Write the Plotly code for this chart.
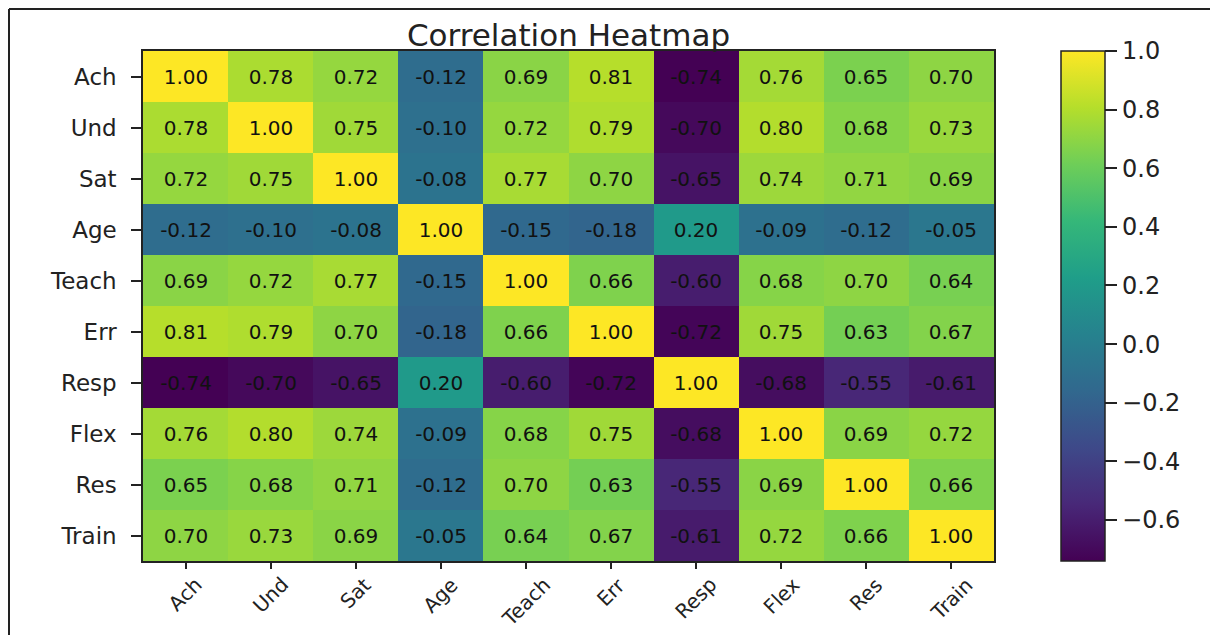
import plotly.graph_objects as go

labels = ["Ach", "Und", "Sat", "Age", "Teach", "Err", "Resp", "Flex", "Res", "Train"]

row_ach = [1.00, 0.78, 0.72, -0.12, 0.69, 0.81, -0.74, 0.76, 0.65, 0.70]
row_und = [0.78, 1.00, 0.75, -0.10, 0.72, 0.79, -0.70, 0.80, 0.68, 0.73]
row_sat = [0.72, 0.75, 1.00, -0.08, 0.77, 0.70, -0.65, 0.74, 0.71, 0.69]
row_age = [-0.12, -0.10, -0.08, 1.00, -0.15, -0.18, 0.20, -0.09, -0.12, -0.05]
row_teach = [0.69, 0.72, 0.77, -0.15, 1.00, 0.66, -0.60, 0.68, 0.70, 0.64]
row_err = [0.81, 0.79, 0.70, -0.18, 0.66, 1.00, -0.72, 0.75, 0.63, 0.67]
row_resp = [-0.74, -0.70, -0.65, 0.20, -0.60, -0.72, 1.00, -0.68, -0.55, -0.61]
row_flex = [0.76, 0.80, 0.74, -0.09, 0.68, 0.75, -0.68, 1.00, 0.69, 0.72]
row_res = [0.65, 0.68, 0.71, -0.12, 0.70, 0.63, -0.55, 0.69, 1.00, 0.66]
row_train = [0.70, 0.73, 0.69, -0.05, 0.64, 0.67, -0.61, 0.72, 0.66, 1.00]

z = [row_ach, row_und, row_sat, row_age, row_teach, row_err, row_resp, row_flex, row_res, row_train]
cell_text = [[f"{v:.2f}" for v in row] for row in z]

cbar_vals = [1.0, 0.8, 0.6, 0.4, 0.2, 0.0, -0.2, -0.4, -0.6]
cbar_text = [f"{v:.1f}".replace("-", "\u2212") for v in cbar_vals]

FONT = "DejaVu Sans"
OFF = 8  # page body margin
W, H = 1210, 627
L, T = 143 - OFF, 51 - OFF
R = W - (994 - OFF)
B = H - (561 - OFF)
pw, ph = W - L - R, H - T - B

def px_x(x):
    return (x - OFF - L) / pw

def px_y(y):
    return (H - B - (y - OFF)) / ph

fig = go.Figure(go.Heatmap(
    z=z, x=labels, y=labels,
    text=cell_text, texttemplate="%{text}",
    textfont=dict(family=FONT, size=20, color="#111"),
    colorscale="Viridis", zmin=-0.74, zmax=1.0,
    xgap=0, ygap=0,
    colorbar=dict(
        x=px_x(1061), xanchor="left", xref="paper",
        y=0.5, yanchor="middle", len=1.0, lenmode="fraction",
        thickness=44, thicknessmode="pixels",
        outlinewidth=1.5, outlinecolor="#222",
        tickvals=cbar_vals, ticktext=cbar_text,
        ticks="outside", ticklen=12, tickwidth=1.5, tickcolor="#222",
        tickfont=dict(family=FONT, size=24, color="#222"),
        xpad=0, ypad=0,
    ),
))

# rotated x labels, centred under their ticks like the reference
x_annotations = [
    dict(text=lab, x=lab, xref="x", y=0, yref="paper", yshift=-9,
         xanchor="center", yanchor="top", textangle=-45, showarrow=False,
         font=dict(family=FONT, size=20, color="#222"))
    for lab in labels
]

fig.update_layout(
    width=W, height=H,
    margin=dict(l=L, r=R, t=T, b=B, autoexpand=False),
    paper_bgcolor="white", plot_bgcolor="white",
    title=dict(text="Correlation Heatmap", x=0.5, xref="paper", xanchor="center",
               y=1, yref="paper", yanchor="bottom", pad=dict(b=5),
               font=dict(family=FONT, size=31, color="#222")),
    xaxis=dict(ticks="outside", ticklen=6, tickwidth=1.5, tickcolor="#222",
               showticklabels=False,
               showline=True, linecolor="#222", linewidth=1.5, mirror=True,
               showgrid=False, zeroline=False),
    yaxis=dict(autorange="reversed", ticks="outside", ticklen=10, tickwidth=1.5, tickcolor="#222",
               showline=True, linecolor="#222", linewidth=1.5, mirror=True,
               showgrid=False, zeroline=False, ticklabelstandoff=10,
               tickfont=dict(family=FONT, size=23, color="#222")),
    annotations=x_annotations,
    shapes=[
        dict(type="line", xref="paper", yref="paper", x0=px_x(9), x1=px_x(9), y0=px_y(9), y1=px_y(650),
             line=dict(color="#222", width=2)),
        dict(type="line", xref="paper", yref="paper", x0=px_x(9), x1=px_x(1230), y0=px_y(9), y1=px_y(9),
             line=dict(color="#222", width=2)),
    ],
)

fig.write_html("out.html")
